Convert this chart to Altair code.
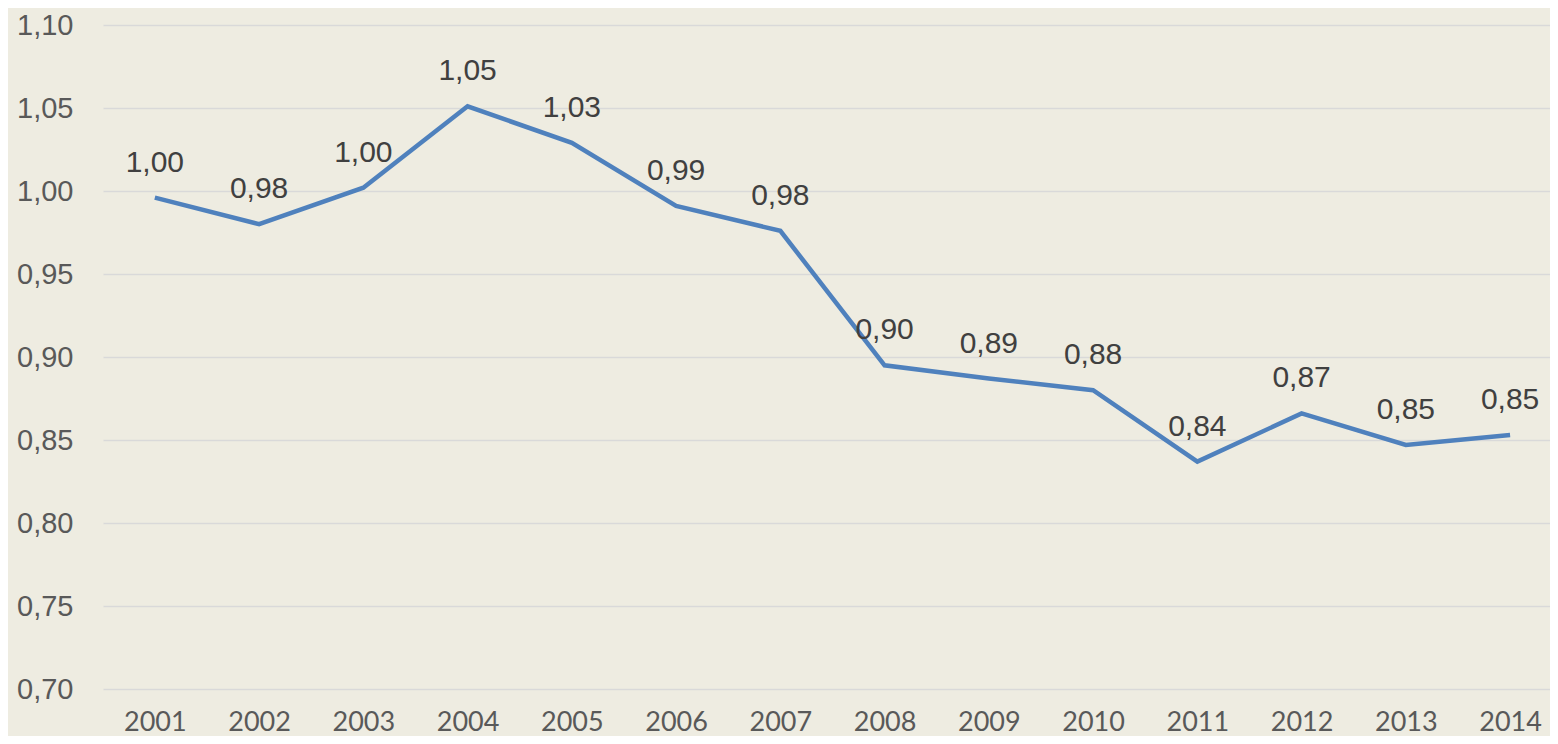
import altair as alt
import pandas as pd

years = ["2001", "2002", "2003", "2004", "2005", "2006", "2007",
         "2008", "2009", "2010", "2011", "2012", "2013", "2014"]
values = [0.996, 0.980, 1.002, 1.051, 1.029, 0.991, 0.976,
          0.895, 0.887, 0.880, 0.837, 0.866, 0.847, 0.853]
labels = ["1,00", "0,98", "1,00", "1,05", "1,03", "0,99", "0,98",
          "0,90", "0,89", "0,88", "0,84", "0,87", "0,85", "0,85"]

df = pd.DataFrame({"year": years, "value": values, "label": labels})

x = alt.X("year:O", axis=alt.Axis(title=None, labelAngle=0, ticks=False, domain=False,
                                  grid=False, labelFont="Lato", labelFontSize=27,
                                  labelColor="#595959", labelPadding=20),
          scale=alt.Scale(type="point", padding=0.44, align=0.565))
y = alt.Y("value:Q", scale=alt.Scale(domain=[0.70, 1.10], nice=False, zero=False),
          axis=alt.Axis(title=None, values=[0.70, 0.75, 0.80, 0.85, 0.90, 0.95, 1.00, 1.05, 1.10],
                        labelExpr="replace(format(datum.value, '.2f'), '.', ',')",
                        ticks=False, domain=False, grid=True, gridColor="#D9D9D9", gridWidth=1.5,
                        labelFont="Liberation Sans", labelFontSize=29, labelColor="#595959",
                        labelPadding=30))

line = alt.Chart(df).mark_line(color="#4F81BD", strokeWidth=4.5).encode(x=x, y=y)
text = alt.Chart(df).mark_text(font="Liberation Sans", fontSize=30, color="#404040",
                               baseline="middle", dy=-35).encode(x=x, y=y, text="label:N")

chart = (line + text).properties(
    width=1447, height=664,
    autosize=alt.AutoSizeParams(type="none"),
    padding={"left": 95, "top": 17, "right": 0, "bottom": 47},
    background="#EEECE1",
).configure_view(stroke=None)

chart.save("out.html", embed_options={"renderer": "svg", "actions": False})
